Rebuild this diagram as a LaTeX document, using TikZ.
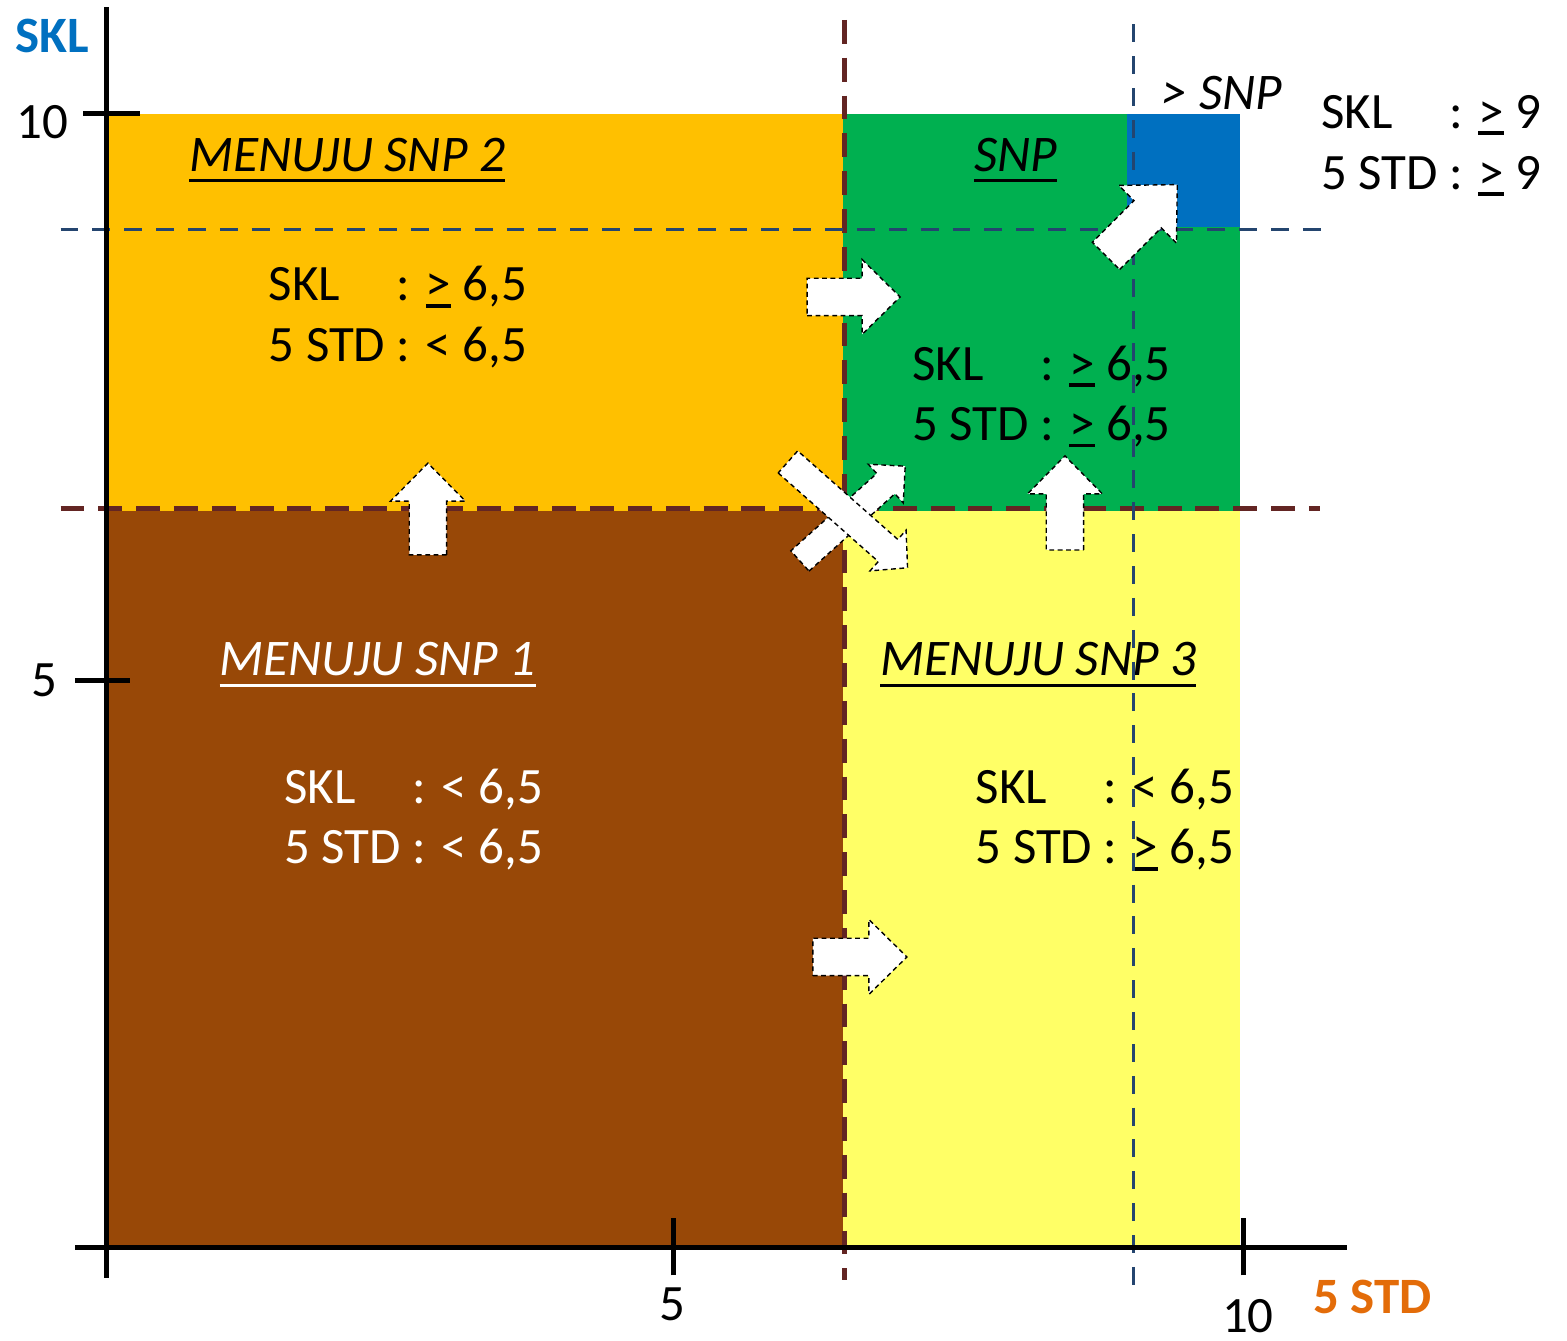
\documentclass[tikz,border=0pt]{standalone}
\usepackage{fontspec}
\setmainfont{Carlito}
\definecolor{orangefill}{HTML}{FFC000}
\definecolor{greenfill}{HTML}{00B050}
\definecolor{brownfill}{HTML}{984807}
\definecolor{yellowfill}{HTML}{FFFF66}
\definecolor{bluefill}{HTML}{0070C0}
\definecolor{darkred}{HTML}{632523}
\definecolor{navy}{HTML}{24456F}
\definecolor{stdorange}{HTML}{E36C09}
\newcommand{\thickul}[1]{\setbox0\hbox{#1}\rlap{\vrule height -1.9pt depth 2.7pt width \wd0}\box0}
\newcommand{\uge}{\setbox0\hbox{>}\rlap{\vrule height -0.7pt depth 1.7pt width \wd0}\box0}
% tail, angle, length, shaft half width, head half width, head length
\newcommand{\blockarrow}[6]{%
  \begin{scope}[shift={#1}, rotate=#2]
    \filldraw[arrowbox] (0,-#4) -- ({#3-#6},-#4) -- ({#3-#6},-#5) -- (#3,0)
      -- ({#3-#6},#5) -- ({#3-#6},#4) -- (0,#4) -- cycle;
  \end{scope}}
\begin{document}
\begin{tikzpicture}[
  txt/.style={inner sep=0pt, font=\fontsize{12.8}{15.2}\selectfont},
  lbl/.style={txt, anchor=west},
  title/.style={inner sep=0pt, anchor=base, font=\fontsize{12.9}{15.2}\selectfont\itshape},
  axislbl/.style={inner sep=0pt, font=\fontsize{12.8}{15}\selectfont\bfseries},
  axis/.style={line width=1.25pt},
  brownline/.style={draw=darkred, line width=1.3pt, dash pattern=on 6pt off 3.5pt},
  blueline/.style={draw=navy, line width=0.85pt, dash pattern=on 4.5pt off 3.5pt},
  arrowbox/.style={fill=white, draw=black, line width=0.35pt, dash pattern=on 1.2pt off 0.9pt}
]
  \useasboundingbox (-0.944,-0.821) rectangle (12.886,11.006);

  \fill[orangefill] (0,6.5) rectangle (6.5,10);
  \fill[greenfill] (6.5,6.5) rectangle (10,10);
  \fill[brownfill] (0,0) rectangle (6.5,6.5);
  \fill[yellowfill] (6.5,0) rectangle (10,6.5);
  \fill[bluefill] (9,9) rectangle (10,10);

  \node[title] (t2) at (2.12,9.49) {\thickul{MENUJU SNP 2}};
  \node[title] (tsnp) at (8.02,9.49) {\thickul{SNP}};
  \node[title, white] (t1) at (2.39,5.04) {\thickul{MENUJU SNP 1}};
  \node[title] (t3) at (8.22,5.04) {\thickul{MENUJU SNP 3}};
  \node[title] (tmax) at (9.84,10.04) {> SNP};

  \node[lbl] (c2) at (1.42,8.19) {\begin{tabular}{@{}l@{ }l@{}}SKL & : \uge{} 6,5\\ 5 STD & : < 6,5\end{tabular}};
  \node[lbl] (csnp) at (7.1,7.49) {\begin{tabular}{@{}l@{ }l@{}}SKL & : \uge{} 6,5\\ 5 STD & : \uge{} 6,5\end{tabular}};
  \node[lbl, white] (c1) at (1.56,3.755) {\begin{tabular}{@{}l@{ }l@{}}SKL & : < 6,5\\ 5 STD & : < 6,5\end{tabular}};
  \node[lbl] (c3) at (7.66,3.755) {\begin{tabular}{@{}l@{ }l@{}}SKL & : < 6,5\\ 5 STD & : \uge{} 6,5\end{tabular}};
  \node[lbl] (cmax) at (10.71,9.71) {\begin{tabular}{@{}l@{ }l@{}}SKL & : \uge{} 9\\ 5 STD & : \uge{} 9\end{tabular}};

  \draw[brownline] (6.51,10.83) -- (6.51,-0.29);
  \draw[brownline] (-0.41,6.52) -- (10.71,6.52);
  \draw[blueline] (9.06,10.79) -- (9.06,-0.42);
  \draw[blueline] (-0.41,8.98) -- (10.79,8.98);

  \draw[axis] (0,-0.27) -- (0,10.94);
  \draw[axis] (-0.28,0) -- (10.94,0);
  \draw[axis] (-0.21,10) -- (0.29,10);
  \draw[axis] (-0.28,5) -- (0.2,5);
  \draw[axis] (5,-0.25) -- (5,0.26);
  \draw[axis] (10.03,-0.25) -- (10.03,0.26);

  \node[txt] (y10) at (-0.57,9.93) {10};
  \node[txt] (y5) at (-0.55,5) {5};
  \node[txt] (x5) at (4.99,-0.51) {5};
  \node[txt] (x10) at (10.07,-0.61) {10};
  \node[axislbl, bluefill] (ylbl) at (-0.48,10.69) {SKL};
  \node[axislbl, stdorange] (xlbl) at (11.17,-0.44) {5 STD};

  \blockarrow{(6.18,8.385)}{0}{0.82}{0.165}{0.33}{0.335}
  \blockarrow{(6.23,2.56)}{0}{0.83}{0.165}{0.33}{0.335}
  \blockarrow{(2.833,6.108)}{90}{0.81}{0.165}{0.33}{0.335}
  \blockarrow{(8.455,6.152)}{90}{0.83}{0.165}{0.33}{0.335}
  \blockarrow{(8.817,8.747)}{45}{0.89}{0.17}{0.36}{0.37}
  \blockarrow{(6.116,6.055)}{42}{1.25}{0.12}{0.23}{0.23}
  \blockarrow{(6.01,6.929)}{-41.5}{1.41}{0.13}{0.24}{0.23}
\end{tikzpicture}
\end{document}
